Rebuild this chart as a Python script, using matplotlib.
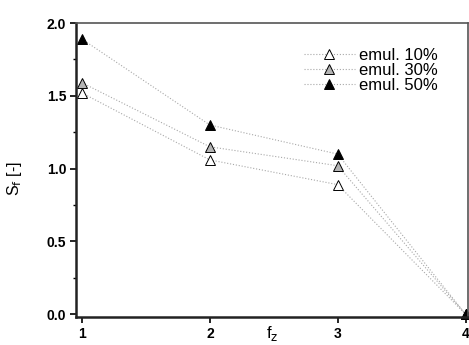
import numpy as np
import matplotlib
matplotlib.use('Agg')
import matplotlib.pyplot as plt
from matplotlib.ticker import MultipleLocator

plt.rcParams['font.family'] = ['Liberation Sans', 'DejaVu Sans']

# data
fr = [1, 2, 3, 4]
emul10 = [1.52, 1.06, 0.89, 0.0]
emul30 = [1.59, 1.15, 1.02, 0.0]
emul50 = [1.89, 1.30, 1.10, 0.0]
labels = ["emul. 10%", "emul. 30%", "emul. 50%"]
faces = ["white", "#b4b4b4", "black"]

fig = plt.figure(figsize=(4.69, 3.45), dpi=100)
ax = fig.add_axes([0.162, 0.081, 0.836, 0.852])

for ys, lab, fc in zip([emul10, emul30, emul50], labels, faces):
    ax.plot(fr, ys, linestyle=":", color="#a8a8a8", linewidth=0.8,
            marker="^", markersize=7.5, markerfacecolor=fc,
            markeredgecolor="black", markeredgewidth=0.7, label=lab, clip_on=False)

ax.set_xlim(0.953, 4.02)
ax.set_ylim(-0.02, 2.0)
ax.set_xticks([1, 2, 3, 4])
ax.yaxis.set_major_locator(MultipleLocator(0.5))
ax.yaxis.set_minor_locator(MultipleLocator(0.25))
ax.xaxis.set_major_formatter(plt.FormatStrFormatter('%d'))
ax.yaxis.set_major_formatter(plt.FormatStrFormatter('%.1f'))
ax.tick_params(axis='both', which='major', direction='out', length=4.5, width=1.2,
               labelsize=10, pad=2.5)
ax.tick_params(axis='y', which='minor', direction='out', length=2.5, width=1.0)
for t in ax.get_xticklabels() + ax.get_yticklabels():
    t.set_fontweight('bold')

for side in ['left', 'bottom']:
    ax.spines[side].set_linewidth(1.8)
    ax.spines[side].set_color('#222222')
for side in ['top', 'right']:
    ax.spines[side].set_linewidth(1.2)
    ax.spines[side].set_color('#555555')

ax.set_ylabel(r"S$_\mathrm{f}$ [-]", fontsize=11.5)
ax.yaxis.set_label_coords(-0.133, 0.47)
ax.set_xlabel(r"f$_\mathrm{z}$", fontsize=12)
ax.xaxis.set_label_coords(0.5, -0.025)

ax.legend(loc='upper right', bbox_to_anchor=(0.96, 0.968), frameon=False,
          fontsize=12, handlelength=3.1, labelspacing=0.0, handletextpad=0.2)

plt.savefig("out.png", dpi=100)
plt.close()
